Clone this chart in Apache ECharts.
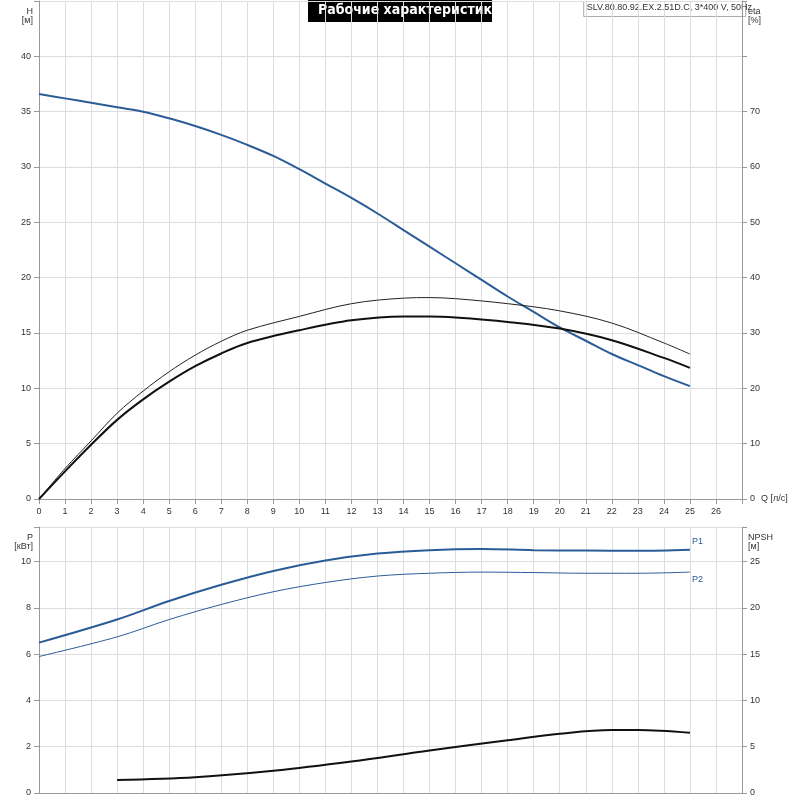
<!DOCTYPE html><html><head><meta charset="utf-8"><script src="https://cdn.jsdelivr.net/npm/echarts@6/dist/echarts.min.js"></script></head><body style="margin:0"><div id="c" style="width:800px;height:800px"></div><script>
const qH=[0,1,2,3,4,5,6,7,8,9,10,11,12,13,14,15,16,17,18,19,20,21,22,23,24,25];
const H=[36.6,36.2,35.8,35.4,35.0,34.4,33.7,32.9,32.0,31.0,29.8,28.5,27.2,25.8,24.3,22.8,21.3,19.8,18.3,16.9,15.5,14.3,13.1,12.1,11.1,10.2];
const qE=[0,1,2,3,4,5,6,7,8,10,12,14,15,16,18,20,22,24,25];
const eta1=[0,5.5,10.5,15.5,19.5,23,26,28.5,30.5,33,35.3,36.3,36.4,36.2,35.3,34,31.8,28.2,26.2];
const eta2=[0,5,9.8,14.3,18,21.2,24,26.3,28.2,30.5,32.3,33,33,32.8,32,30.8,28.7,25.5,23.7];
const qP=[0,3,5,7,9,11,13,15,17,19,21,23,25];
const P1=[6.5,7.5,8.3,9.0,9.6,10.05,10.35,10.5,10.55,10.5,10.48,10.47,10.52];
const P2=[5.9,6.75,7.5,8.15,8.7,9.1,9.38,9.5,9.55,9.53,9.5,9.5,9.55];
const qN=[3,6,9,12,15,18,20,22,23,25];
const NPSH=[1.4,1.7,2.4,3.4,4.6,5.7,6.4,6.8,6.8,6.5];
const z=(a,b)=>a.map((v,i)=>[v,b[i]]);
const blue='#2b5c97',gc='#dddddd',tc='#333';
const ax={color:'#999'};
function xa(i,show){return {type:'value',gridIndex:i,min:0,max:27,interval:1,axisLine:{lineStyle:ax},axisTick:{show:show},
 axisLabel:{show:show,fontSize:9,color:tc,formatter:v=>v==27?'':v},splitLine:{lineStyle:{color:gc}},
 name:show?'Q [л/с]':'',nameLocation:'end',nameGap:-18,nameTextStyle:{fontSize:9,color:tc,padding:[28,0,0,0]}};}
function ya(i,pos,max,int,name,lim,split){return {type:'value',gridIndex:i,position:pos,min:0,max:max,interval:int,
 axisLine:{show:true,lineStyle:ax},axisTick:{show:true},splitLine:{show:split,lineStyle:{color:gc}},
 axisLabel:{fontSize:9,color:tc,formatter:v=>v>lim?'':v},name:name,nameGap:-24,nameTextStyle:{fontSize:9,color:tc,align:pos=='left'?'right':'left',padding:pos=='left'?[0,6,0,0]:[0,0,0,6]}};}
const ls=(w,c)=>({type:'line',smooth:0.35,showSymbol:false,lineStyle:{width:w,color:c},itemStyle:{color:c}});
const opt={animation:false,
grid:[{left:39,right:58,top:1,height:498,outerBoundsMode:'none'},{left:39,right:58,top:527,height:266,outerBoundsMode:'none'}],
xAxis:[xa(0,true),xa(1,false)],
yAxis:[ya(0,'left',45,5,'H\n[м]',40,true),ya(0,'right',90,10,'eta\n[%]',70,false),
 ya(1,'left',11.5,2,'P\n[кВт]',10,true),ya(1,'right',28.75,5,'NPSH\n[м]',25,false)],
graphic:[{type:'group',left:308,top:0,children:[{type:'rect',shape:{width:184,height:22},style:{fill:'#000'}},
 {type:'text',left:10,top:3,style:{text:'Рабочие характеристики',fill:'#fff',font:'bold 14px "DejaVu Sans Condensed", "Liberation Sans Narrow", sans-serif'}}]},
 {type:'group',right:48,top:1,children:[{type:'rect',shape:{width:162,height:15},style:{fill:'#fff',stroke:'#aaa'}},
 {type:'text',left:3,top:2,style:{text:'SLV.80.80.92.EX.2.51D.C, 3*400 V, 50Hz',fill:'#333',font:'9px "Liberation Sans", sans-serif'}}]}],
series:[
 Object.assign(ls(2,blue),{xAxisIndex:0,yAxisIndex:0,data:z(qH,H)}),
 Object.assign(ls(1,'#222'),{xAxisIndex:0,yAxisIndex:1,data:z(qE,eta1)}),
 Object.assign(ls(2,'#111'),{xAxisIndex:0,yAxisIndex:1,data:z(qE,eta2)}),
 Object.assign(ls(2,blue),{xAxisIndex:1,yAxisIndex:2,data:z(qP,P1),endLabel:{show:true,formatter:'P1',fontSize:9,color:blue,offset:[-6,-8]}}),
 Object.assign(ls(1,blue),{xAxisIndex:1,yAxisIndex:2,data:z(qP,P2),endLabel:{show:true,formatter:'P2',fontSize:9,color:blue,offset:[-6,7]}}),
 Object.assign(ls(2,'#111'),{xAxisIndex:1,yAxisIndex:3,data:z(qN,NPSH)})
]};
echarts.init(document.getElementById('c')).setOption(opt);
</script></body></html>
